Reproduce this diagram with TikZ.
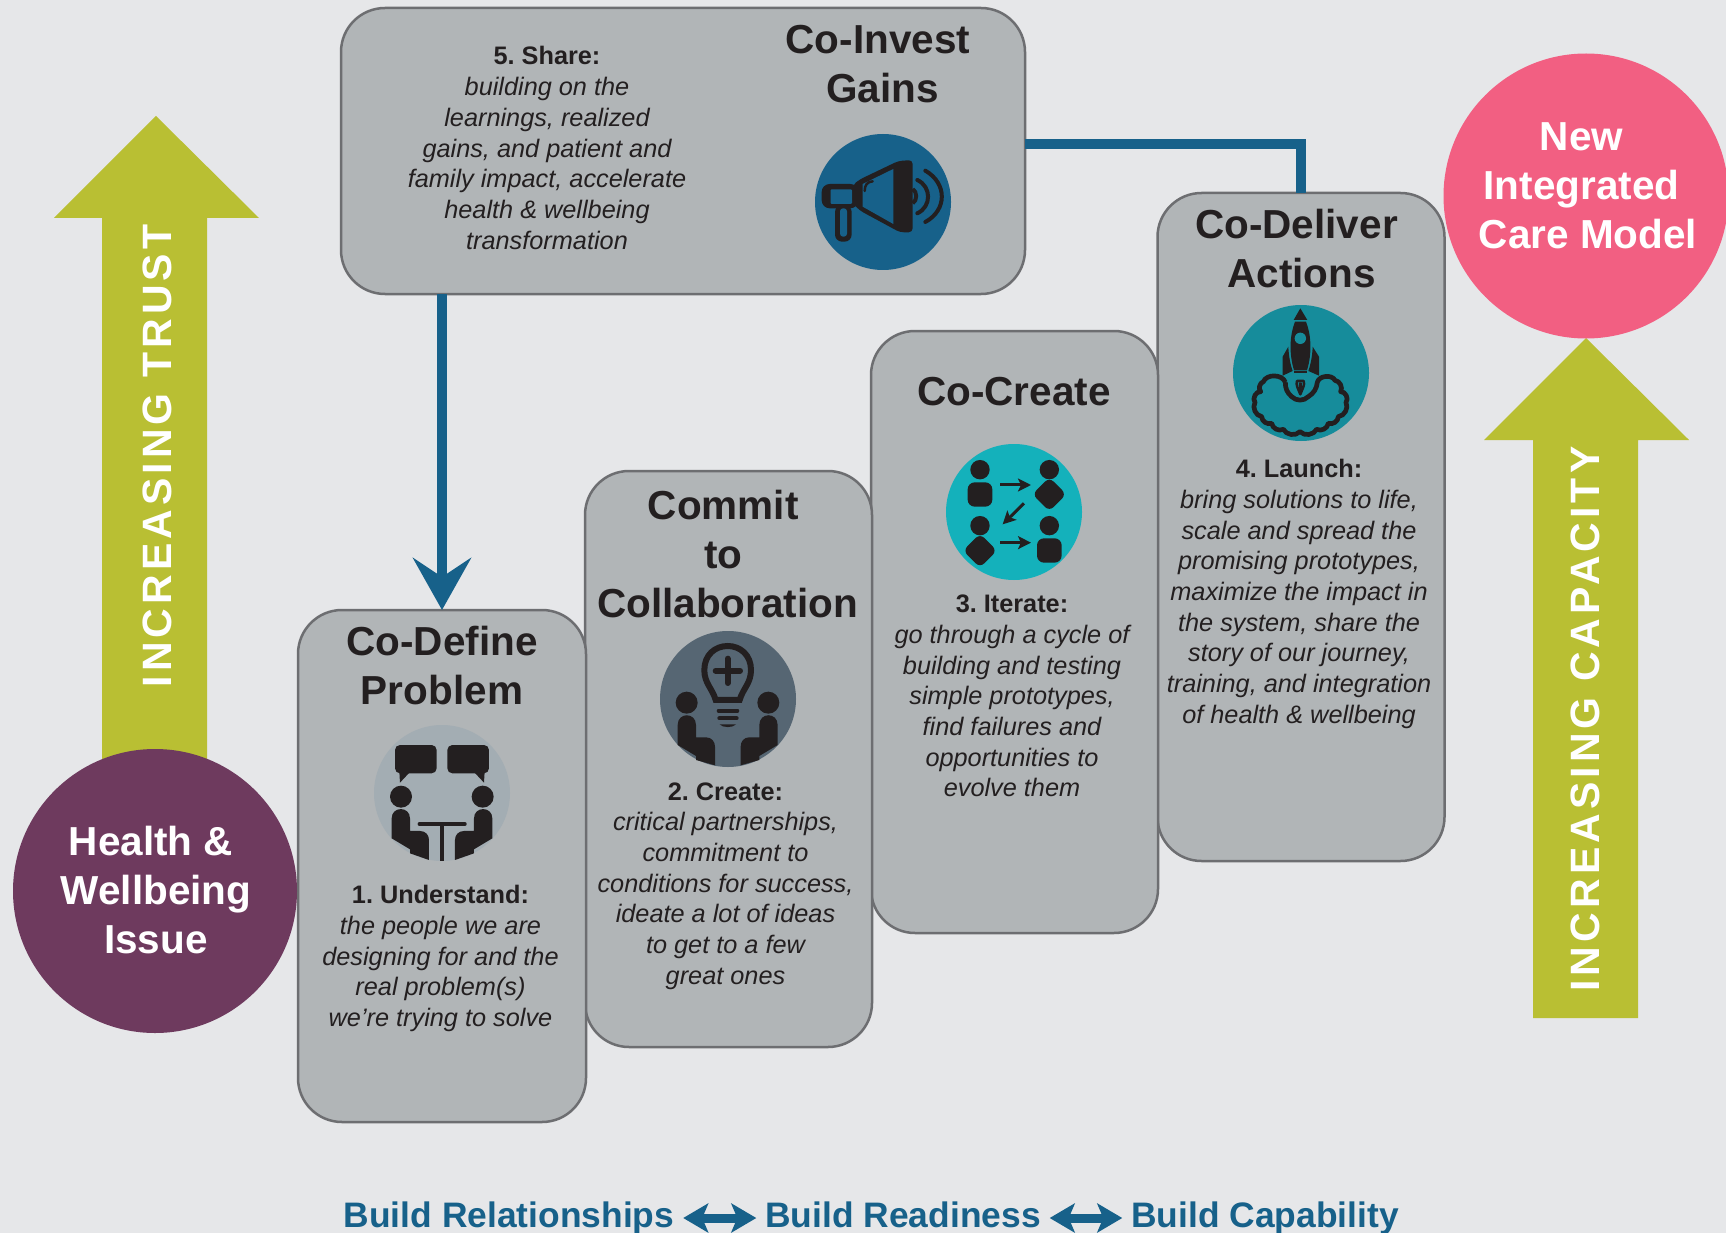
\documentclass[tikz,border=0pt]{standalone}
\usepackage{fontspec}
\setmainfont{Liberation Sans}
\newfontfamily\spacedfont[LetterSpace=10]{Liberation Sans}
\usetikzlibrary{arrows.meta}

\definecolor{pagebg}{HTML}{E6E7E9}
\definecolor{boxgray}{HTML}{B1B5B7}
\definecolor{boxline}{HTML}{6D6E71}
\definecolor{ink}{HTML}{231F20}
\definecolor{olive}{HTML}{B9BF33}
\definecolor{plum}{HTML}{6E3A5E}
\definecolor{rose}{HTML}{F25F82}
\definecolor{flowblue}{HTML}{17618A}
\definecolor{icondefine}{HTML}{A3ADB3}
\definecolor{iconcommit}{HTML}{566673}
\definecolor{iconcreate}{HTML}{14B1BB}
\definecolor{icondeliver}{HTML}{168C9B}

\frenchspacing
\tikzset{
	stepbox/.style={draw=boxline,line width=2.5pt,fill=boxgray,rounded corners=44pt,minimum width=#1,inner sep=0pt,outer sep=0pt},
	heading/.style={font=\fontsize{40.5}{49}\selectfont\bfseries,text=ink,align=center,inner sep=0pt},
	body/.style={font=\fontsize{25.3}{30.7}\selectfont\itshape,text=ink,align=center,inner sep=0pt},
	bigcircle/.style={circle,minimum size=285pt,inner sep=0pt,outer sep=0pt},
	circletext/.style={font=\fontsize{40.5}{49}\selectfont\bfseries,text=white,align=center,inner sep=0pt},
	arrowtext/.style={font=\spacedfont\fontsize{41}{41}\selectfont\bfseries,text=white,rotate=90,inner sep=0pt},
	bottomtext/.style={font=\fontsize{35.4}{40}\selectfont\bfseries,text=flowblue,text height=26pt,text depth=7pt,inner sep=0pt,outer xsep=9pt},
	flow/.style={flowblue,line width=10.5pt},
	iconcircle/.style={circle,minimum size=136pt,inner sep=0pt,outer sep=0pt},
	zoomed/.style={x=0.3333pt,y=-0.3333pt},
}

\begin{document}
\begin{tikzpicture}[x=1pt,y=-1pt]
	\useasboundingbox (0,0) rectangle (1726,1233);
	\fill[pagebg] (0,0) rectangle (1726,1233);

	% big arrows
	\fill[olive] (156,116) -- (259,218) -- (207,218) -- (207,780) -- (102,780) -- (102,218) -- (54,218) -- cycle;
	\fill[olive] (1586,338) -- (1689,440) -- (1638,440) -- (1638,1018) -- (1533,1018) -- (1533,440) -- (1484,440) -- cycle;
	\node[arrowtext] (trustlabel) at (157,456) {INCREASING TRUST};
	\node[arrowtext] (capacitylabel) at (1585,719) {INCREASING CAPACITY};

	% boxes
	\node[stepbox=684pt,minimum height=286pt] (invest) at (683,151) {};
	\node[stepbox=287pt,minimum height=668pt] (deliver) at (1301,527) {};
	\draw[flow] ([yshift=7pt]invest.east) -| (deliver.north);
	\node[stepbox=287pt,minimum height=602pt] (create) at (1014.5,632) {};
	\node[stepbox=287pt,minimum height=576pt] (commit) at (728.5,759) {};
	\node[stepbox=288pt,minimum height=512pt] (define) at (442,866) {};
	\draw[flow,-{Stealth[length=52pt,width=58pt,inset=19pt]}] (invest.south -| define.north) -- (define.north);

	% circles
	\node[bigcircle,fill=plum,minimum size=284pt] (issue) at (155,891) {};
	\node[circletext] (issuelabel) at (156,890) {Health \&\hspace*{10pt}\\Wellbeing\\Issue};
	\node[bigcircle,fill=rose] (model) at (1586,196) {};
	\node[circletext] (modellabel) at (1581.5,186) {New\\Integrated\\\hspace*{13pt}Care Model};

	% headings
	\node[heading] (investhead) at (880,64) {Co-Invest\hspace*{4.4pt}\\\hspace*{5.5pt}Gains};
	\node[heading] (definehead) at (442,666) {Co-Define\\Problem};
	\node[heading] (commithead) at (723.2,554) {Commit\\to\\\hspace*{8.8pt}Collaboration};
	\node[heading] (createhead) at (1014,392) {Co-Create};
	\node[heading] (deliverhead) at (1296.5,249) {Co-Deliver\\\hspace*{10pt}Actions};

	% step texts
	\node[body] (sharetext) at (547,148) {{\upshape\bfseries 5. Share:}\\building on the\\learnings, realized\\gains, and patient and\\family impact, accelerate\\health \& wellbeing\\transformation};
	\node[body] (understandtext) at (440.5,958.5) {{\upshape\bfseries 1. Understand:}\\the people we are\\designing for and the\\real problem(s)\\we’re trying to solve};
	\node[body] (createtext) at (725.5,886) {{\upshape\bfseries 2. Create:}\\critical partnerships,\\commitment to\\conditions for success,\\ideate a lot of ideas\\to get to a few\\great ones};
	\node[body] (iteratetext) at (1012,696) {{\upshape\bfseries 3. Iterate:}\\go through a cycle of\\building and testing\\simple prototypes,\\find failures and\\opportunities to\\evolve them};
	\node[body] (launchtext) at (1299,594) {{\upshape\bfseries 4. Launch:}\\bring solutions to life,\\scale and spread the\\promising prototypes,\\maximize the impact in\\the system, share the\\story of our journey,\\training, and integration\\of health \& wellbeing};

	% icon discs
	\node[iconcircle,fill=flowblue] (investicon) at (883,202) {};
	\node[iconcircle,fill=icondefine] (defineicon) at (442,793) {};
	\node[iconcircle,fill=iconcommit] (commiticon) at (728,699) {};
	\node[iconcircle,fill=iconcreate] (createicon) at (1014,512) {};
	\node[iconcircle,fill=icondeliver] (delivericon) at (1301,373) {};

	% megaphone
	\begin{scope}[shift={(780,120)},zoomed]
		\fill[ink,rounded corners=8pt] (125,192) rectangle (235,265);
		\fill[flowblue,rounded corners=1pt] (152,208) rectangle (216,252);
		\fill[ink,rounded corners=7pt] (165,255) rectangle (215,365);
		\fill[flowblue,rounded corners=3pt] (180,265) rectangle (201,350);
		\fill[ink,rounded corners=4pt] (218,195) -- (240,178) -- (355,123) -- (398,120) -- (398,337) -- (360,337) -- (240,272) -- (218,250) -- cycle;
		\fill[flowblue] (248,192) -- (340,147) -- (340,312) -- (248,260) -- cycle;
		\draw[ink,line width=2.5pt,line cap=round] (254,213) .. controls (254,195) and (262,185) .. (278,184);
		\draw[ink,line width=4pt] (398,207) .. controls (412,215) and (412,242) .. (398,250);
		\draw[ink,line width=4pt,line cap=round] (412,180) .. controls (455,200) and (455,260) .. (412,280);
		\draw[ink,line width=4pt,line cap=round] (436,152) .. controls (502,190) and (502,270) .. (436,306);
	\end{scope}

	% people at a table
	\begin{scope}[shift={(360,710)},zoomed]
		\fill[ink,rounded corners=5pt] (105,105) rectangle (230,190);
		\fill[ink] (118,185) -- (120,218) -- (148,188) -- cycle;
		\fill[ink,rounded corners=5pt] (262,105) rectangle (387,190);
		\fill[ink] (374,185) -- (372,218) -- (344,188) -- cycle;
		\fill[ink] (123,260) circle (11pt);
		\fill[ink] (368,260) circle (11pt);
		\fill[ink] (95,325) .. controls (95,288) and (150,288) .. (150,325) -- (150,363) -- (180,363) .. controls (197,363) and (207,375) .. (207,390) -- (207,450) -- (150,430) -- (150,418) -- (95,385) -- cycle;
		\fill[ink] (397,325) .. controls (397,288) and (342,288) .. (342,325) -- (342,363) -- (312,363) .. controls (295,363) and (285,375) .. (285,390) -- (285,450) -- (342,430) -- (342,418) -- (397,385) -- cycle;
		\draw[ink,line width=3.5pt,line cap=round] (178,342) -- (315,342);
		\draw[ink,line width=4pt] (245,342) -- (245,452);
	\end{scope}

	% light bulb
	\begin{scope}[shift={(650,620)},zoomed]
		\draw[ink,line width=6pt] (197,240) .. controls (187,205) and (163,190) .. (163,150) .. controls (163,105) and (195,78) .. (233,78) .. controls (271,78) and (303,105) .. (303,150) .. controls (303,190) and (279,205) .. (269,240) -- cycle;
		\draw[ink,line width=6pt,line cap=round] (197,152) -- (270,152);
		\draw[ink,line width=6pt,line cap=round] (233,116) -- (233,189);
		\draw[ink,line width=4pt,line cap=round] (206,272) -- (262,272);
		\draw[ink,line width=4pt,line cap=round] (208,295) -- (260,295);
		\fill[ink] (209,313) -- (258,313) .. controls (250,324) and (217,324) .. (209,313) -- cycle;
		\fill[ink] (110,248) circle (11pt);
		\fill[ink] (355,248) circle (11pt);
		\fill[ink] (83,315) .. controls (83,276) and (138,276) .. (138,315) -- (138,352) -- (168,352) .. controls (185,352) and (195,365) .. (195,380) -- (195,436) -- (138,420) -- (138,408) -- (83,375) -- cycle;
		\fill[ink] (383,315) .. controls (383,276) and (328,276) .. (328,315) -- (328,352) -- (298,352) .. controls (281,352) and (272,365) .. (272,380) -- (272,436) -- (328,420) -- (328,408) -- (383,375) -- cycle;
	\end{scope}

	% iterating people
	\begin{scope}[shift={(935,435)},zoomed]
		\fill[ink] (135,104) circle (9.7pt);
		\fill[ink] (343,104) circle (9.7pt);
		\fill[ink] (135,272) circle (9.7pt);
		\fill[ink] (343,272) circle (9.7pt);
		\fill[ink,rounded corners=7pt] (98,142) rectangle (172,215);
		\fill[ink,rounded corners=7pt] (306,310) rectangle (380,383);
		\fill[ink,rounded corners=6pt] (343,127) -- (394,178) -- (343,229) -- (292,178) -- cycle;
		\fill[ink,rounded corners=6pt] (135,296) -- (186,347) -- (135,398) -- (84,347) -- cycle;
		\begin{scope}[ink,line width=3pt,-{Stealth[length=13pt,width=13pt,inset=3pt]}]
			\draw (195,150) -- (288,150);
			\draw (267,205) -- (203,268);
			\draw (195,323) -- (288,323);
		\end{scope}
	\end{scope}

	% rocket
	\begin{scope}[shift={(1220,295)},zoomed]
		\fill[ink] (241,40) -- (262,75) -- (221,75) -- cycle;
		\fill[ink] (225,80) -- (258,80) .. controls (272,115) and (278,170) .. (261,226) -- (222,226) .. controls (205,170) and (211,115) .. (225,80) -- cycle;
		\fill[icondeliver] (241,130) circle (5.7pt);
		\fill[ink] (205,155) -- (188,185) -- (188,242) -- (218,228) .. controls (210,205) and (206,180) .. (205,155) -- cycle;
		\fill[ink] (278,155) -- (297,185) -- (297,242) -- (265,228) .. controls (273,205) and (277,180) .. (278,155) -- cycle;
		\draw[ink,line width=2pt] (223,232) -- (260,232);
		\draw[ink,fill=icondeliver,line width=2.5pt,line join=round] (241,298) .. controls (234,280) and (227,270) .. (231,258) -- (251,258) .. controls (255,270) and (248,280) .. (241,298) -- cycle;
		\fill[ink] (241,298) .. controls (237,285) and (235,275) .. (237,262) -- (245,262) .. controls (247,275) and (245,285) .. (241,298) -- cycle;
		\draw[ink,line width=4.7pt,line join=round] (196,262) to[bend right=25] (215,305) to[bend right=45] (265,305) to[bend right=25] (292,262)
			to[bend left=70] (345,256) to[bend left=55] (362,290) to[bend left=70] (378,322) to[bend left=55] (355,365)
			to[bend left=55] (325,385) to[bend left=55] (290,403) to[bend left=55] (240,410) to[bend left=55] (190,403)
			to[bend left=55] (155,385) to[bend left=55] (125,365) to[bend left=55] (105,322) to[bend left=70] (122,290)
			to[bend left=55] (130,260) to[bend left=70] (196,262);
	\end{scope}

	% bottom line
	\node[bottomtext] (relationships) at (509,1218) {Build Relationships};
	\node[bottomtext] (readiness) at (903,1218) {Build Readiness};
	\node[bottomtext] (capability) at (1265,1218) {Build Capability};
	\begin{scope}[flow,line width=9pt,{Stealth[length=25pt,width=29pt,inset=6pt]}-{Stealth[length=25pt,width=29pt,inset=6pt]}]
		\draw (relationships) -- (readiness);
		\draw (readiness) -- (capability);
	\end{scope}
\end{tikzpicture}
\end{document}
